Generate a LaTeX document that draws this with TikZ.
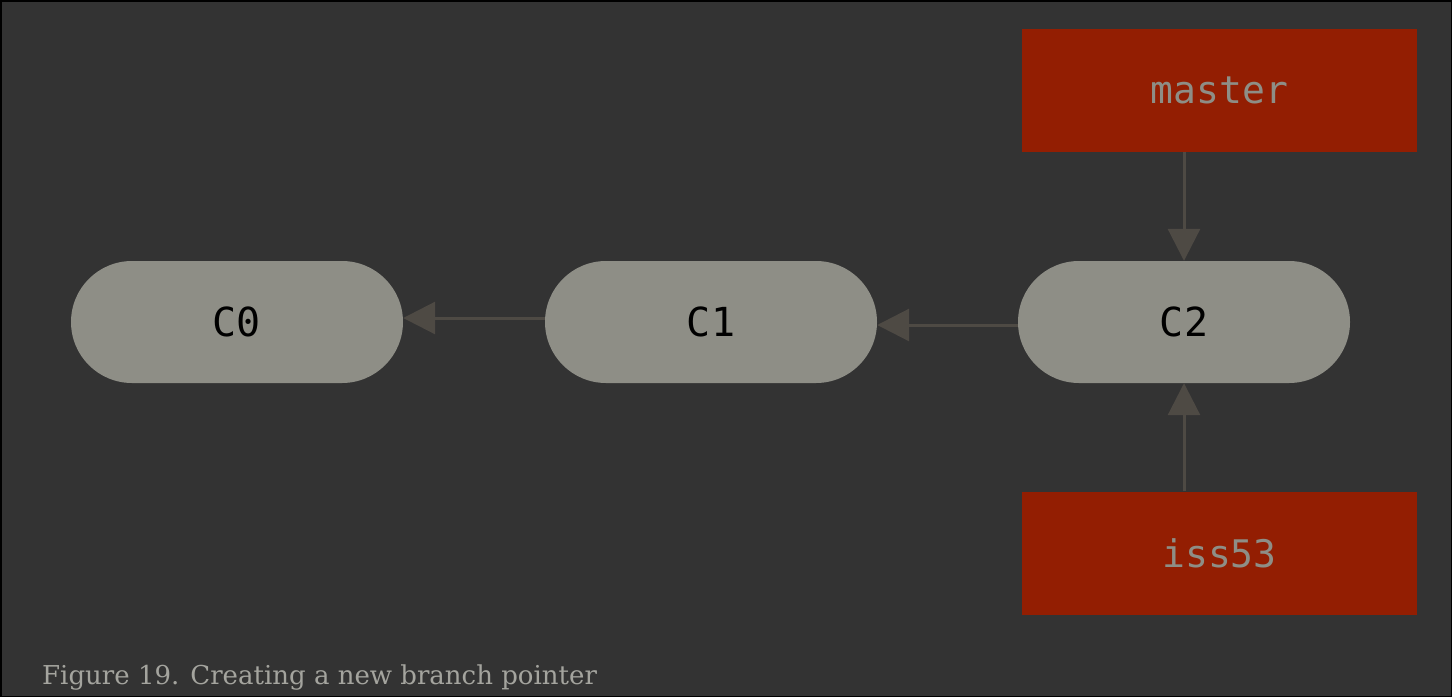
\documentclass[tikz,border=0pt]{standalone}
\usepackage{fontspec}
\newfontfamily\monof{DejaVu Sans Mono}
\newfontfamily\capf{DejaVu Serif}
\usetikzlibrary{arrows.meta}
\definecolor{bg}{HTML}{333333}
\definecolor{pill}{HTML}{8E8E86}
\definecolor{redb}{HTML}{931E02}
\definecolor{arr}{HTML}{4E4A44}
\tikzset{
  commit/.style={fill=pill, rounded corners=61pt, minimum width=332pt, minimum height=122pt, inner sep=0pt, font=\monof\fontsize{40}{40}\selectfont, text=black},
  branch/.style={fill=redb, minimum width=395pt, minimum height=123pt, inner sep=0pt, font=\monof\fontsize{38}{38}\selectfont, text=pill},
  link/.style={draw=arr, line width=3pt, -{Triangle[length=32pt,width=32pt]}}
}
\begin{document}
\begin{tikzpicture}[x=1pt,y=-1pt]
\fill[black] (0,0) rectangle (1452,697);
\fill[bg] (1.5,1.5) rectangle (1450.5,695.5);
\node[commit] (c0) at (237,322) {C0};
\node[commit] (c1) at (711,322) {C1};
\node[commit] (c2) at (1184,322) {C2};
\node[branch] (m) at (1219.5,90.5) {master};
\node[branch] (i) at (1219.5,553) {iss53};
\draw[link] (c1.west |- 0,318) -- (c0.east |- 0,318);
\draw[link] (c2.west |- 0,325) -- (c1.east |- 0,325);
\draw[link] (m.south -| c2) -- (c2.north);
\draw[link] (i.north -| c2) -- (c2.south);
\node[anchor=base west, inner sep=0pt, text=pill!80!white, font=\capf\fontsize{26}{26}\selectfont] (cap) at (42,684) {Figure 19. Creating a new branch pointer};
\end{tikzpicture}
\end{document}
